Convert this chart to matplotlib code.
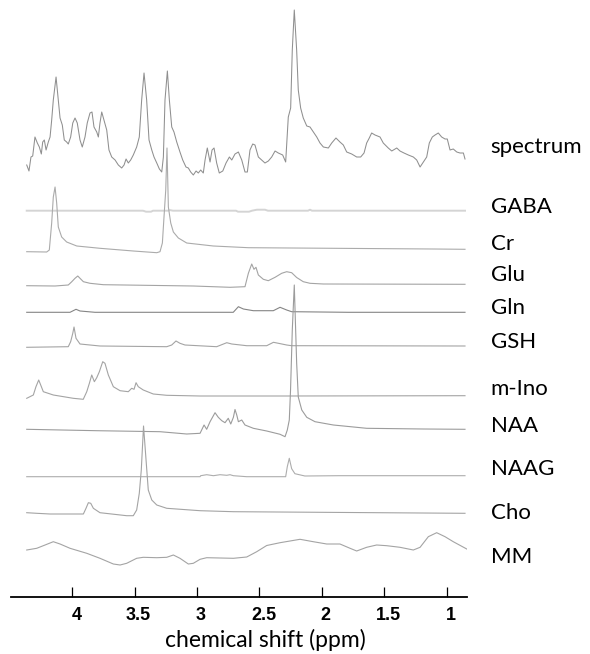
import matplotlib
matplotlib.use('Agg')
import matplotlib.pyplot as plt
import matplotlib.transforms as mtransforms

# trace names (top to bottom)
names = ['spectrum', 'GABA', 'Cr', 'Glu', 'Gln', 'GSH', 'm-Ino', 'NAA', 'NAAG', 'Cho', 'MM']

# values: chemical shift (ppm) and intensity (a.u.) above each trace baseline
spectrum_ppm = [4.365, 4.347, 4.331, 4.317, 4.299, 4.280, 4.264, 4.248, 4.237, 4.224, 4.210, 4.192, 4.178, 4.165,
                4.152, 4.130, 4.112, 4.098, 4.080, 4.064, 4.045, 4.032, 4.013, 3.996, 3.978, 3.960, 3.938, 3.920,
                3.898, 3.880, 3.858, 3.842, 3.826, 3.804, 3.791, 3.778, 3.764, 3.746, 3.724, 3.706, 3.684, 3.657,
                3.631, 3.604, 3.585, 3.569, 3.551, 3.532, 3.511, 3.484, 3.463, 3.444, 3.425, 3.404, 3.385, 3.363,
                3.345, 3.323, 3.302, 3.283, 3.270, 3.257, 3.238, 3.222, 3.203, 3.185, 3.163, 3.137, 3.115, 3.089,
                3.070, 3.051, 3.030, 3.008, 2.990, 2.971, 2.950, 2.936, 2.918, 2.896, 2.880, 2.864, 2.843, 2.822,
                2.794, 2.768, 2.741, 2.722, 2.696, 2.669, 2.642, 2.616, 2.597, 2.576, 2.554, 2.536, 2.509, 2.482,
                2.456, 2.429, 2.402, 2.375, 2.349, 2.314, 2.290, 2.269, 2.250, 2.237, 2.221, 2.202, 2.189, 2.170,
                2.149, 2.121, 2.095, 2.063, 2.041, 2.015, 1.988, 1.948, 1.921, 1.887, 1.855, 1.828, 1.801, 1.761,
                1.721, 1.689, 1.662, 1.641, 1.620, 1.601, 1.574, 1.534, 1.508, 1.468, 1.440, 1.400, 1.374, 1.342,
                1.307, 1.267, 1.240, 1.213, 1.187, 1.160, 1.139, 1.115, 1.093, 1.067, 1.040, 1.013, 0.995, 0.973,
                0.947, 0.919, 0.893, 0.866, 0.853]
spectrum_int = [15, 9, 23, 24, 43, 37, 33, 26, 38, 40, 30, 38, 43, 60,
                80, 103, 80, 62, 55, 40, 38, 36, 43, 57, 62, 57, 40, 33,
                43, 57, 67, 68, 53, 48, 43, 57, 68, 60, 50, 30, 23, 20,
                15, 12, 15, 21, 17, 20, 25, 33, 43, 80, 107, 80, 40, 30,
                23, 17, 11, 8, 23, 80, 109, 80, 53, 48, 38, 28, 20, 13,
                12, 8, 5, 9, 7, 10, 7, 20, 32, 18, 30, 32, 17, 7,
                9, 17, 23, 20, 26, 28, 20, 8, 8, 30, 36, 35, 23, 20,
                17, 19, 23, 29, 27, 25, 18, 63, 72, 130, 170, 130, 90, 72,
                62, 54, 53, 47, 43, 37, 33, 32, 37, 42, 38, 35, 28, 26,
                23, 23, 27, 37, 42, 47, 45, 43, 37, 32, 29, 32, 29, 27,
                25, 23, 20, 13, 18, 23, 37, 43, 45, 47, 43, 41, 41, 30,
                31, 28, 27, 27, 21]

gaba_ppm = [4.365, 3.433, 3.409, 3.369, 3.353, 3.233, 3.217, 3.193, 2.688, 2.672, 2.584, 2.560, 2.520, 2.456,
            2.432, 2.111, 2.095, 2.079, 0.853]
gaba_int = [0, 0, -1, -1, 0, 0, 0.6, 0, 0, -1, -1, 0, 1, 1, 0, 0, 1, 0, 0]

cr_ppm = [4.365, 4.205, 4.184, 4.165, 4.152, 4.138, 4.125, 4.112, 4.085, 4.045, 3.964, 3.778, 3.511, 3.323,
          3.297, 3.278, 3.265, 3.251, 3.241, 3.230, 3.211, 3.190, 3.150, 3.083, 2.870, 2.589, 1.107, 0.853]
cr_int = [0.3, 0, 2, 29, 55, 65, 49, 25, 15, 10, 6, 3.7, 1, -0.7,
          0.3, 9, 35, 62, 104, 45, 29, 20, 14, 9, 6, 4.3, 3, 2.7]

glu_ppm = [4.365, 4.138, 4.032, 4.004, 3.978, 3.956, 3.938, 3.911, 3.858, 3.751, 3.030, 2.736, 2.616, 2.589,
           2.562, 2.544, 2.528, 2.509, 2.469, 2.429, 2.375, 2.322, 2.282, 2.242, 2.202, 2.149, 2.095, 1.988, 0.853]
glu_int = [0.3, 0, 1, 4.3, 7.7, 10, 7.7, 4.3, 2.7, 1.3, 0, -1.3, -0.7, 12.7,
           22, 16.7, 18.7, 11, 6.7, 5.3, 8.7, 12.7, 14.3, 13.3, 8.5, 4.3, 2.7, 2, 1.7]

gln_ppm = [4.365, 4.018, 3.970, 3.938, 3.818, 2.710, 2.669, 2.629, 2.549, 2.389, 2.335, 2.282, 2.242, 1.788, 0.853]
gln_int = [0, 0, 3, 1.3, 0, 0, 5.6, 3.3, 1.6, 1.6, 5, 2.3, 0.6, 0, 0]

gsh_ppm = [4.365, 4.032, 4.013, 3.996, 3.986, 3.970, 3.938, 3.778, 3.243, 3.203, 3.169, 3.137, 3.097, 2.843,
           2.762, 2.722, 2.602, 2.442, 2.388, 2.348, 2.282, 2.242, 0.853]
gsh_int = [-0.6, 0, 5, 13.4, 19.7, 8.4, 2.7, 0.7, 0, 1.7, 5.7, 3.4, 1.7, 0,
           4, 2.7, 1, 1, 4.4, 3.4, 1.7, 1, 0.7]

mino_ppm = [4.365, 4.312, 4.291, 4.269, 4.253, 4.232, 4.152, 3.992, 3.912, 3.884, 3.863, 3.844, 3.823, 3.804,
            3.783, 3.756, 3.738, 3.711, 3.671, 3.617, 3.551, 3.524, 3.505, 3.489, 3.471, 3.431, 3.351, 3.243,
            2.976, 2.282, 0.853]
mino_int = [0, 3.3, 11.6, 18.3, 13.3, 6.6, 3.3, 0, -1, 6.6, 15, 23.3, 16.6, 20.6,
            26.6, 36.6, 35, 23.3, 11.6, 7.6, 6.6, 10, 9, 15.6, 11.6, 8.3, 4.3, 3,
            2.3, 2.3, 2.6]

naa_ppm = [4.365, 3.804, 3.297, 3.083, 2.976, 2.944, 2.923, 2.896, 2.856, 2.830, 2.802, 2.776, 2.750, 2.730,
           2.709, 2.696, 2.682, 2.669, 2.642, 2.616, 2.549, 2.442, 2.335, 2.295, 2.277, 2.261, 2.251, 2.237,
           2.221, 2.202, 2.189, 2.161, 2.121, 2.055, 1.908, 1.641, 1.187, 0.853]
naa_int = [0.7, -0.7, -1.7, -4, -3.3, 5, 0.7, 8.3, 17.3, 12.7, 9.3, 7.3, 11.7, 6,
           12.7, 20.5, 15, 8.3, 10, 5, 1.7, -1, -4.3, -6.7, 0, 10, 40, 100,
           145, 67, 33, 20, 12.7, 8.3, 5, 1.7, 1, 0.7]

naag_ppm = [4.365, 3.432, 2.976, 2.971, 2.923, 2.869, 2.816, 2.762, 2.736, 2.709, 2.602, 2.290, 2.277, 2.261,
            2.242, 2.216, 2.136, 1.868, 0.853]
naag_int = [0, 0, 0, 1, 2, 1, 2, 1.4, 2, 1, 0, 0, 10, 18.4, 8, 3, 0.7, 1, 1]

cho_ppm = [4.365, 4.285, 4.178, 3.911, 3.890, 3.871, 3.852, 3.831, 3.778, 3.564, 3.511, 3.484, 3.463, 3.447,
           3.429, 3.391, 3.363, 3.323, 3.243, 2.976, 2.709, 0.853]
cho_int = [0, -0.6, -1.3, -1.3, 4.4, 10, 9.4, 4.4, 0, -3, -3, 2.7, 19.4, 42.7,
           86.7, 22.7, 12.7, 7.7, 4.4, 2, 1, -0.6]

mm_ppm = [4.365, 4.285, 4.218, 4.152, 4.098, 4.018, 3.884, 3.778, 3.671, 3.617, 3.564, 3.484, 3.431, 3.323,
          3.243, 3.190, 3.137, 3.070, 3.030, 2.976, 2.923, 2.709, 2.602, 2.522, 2.442, 2.335, 2.175, 2.069,
          1.961, 1.855, 1.774, 1.721, 1.641, 1.561, 1.480, 1.374, 1.267, 1.213, 1.147, 1.080, 1.013, 0.947,
          0.839]
mm_int = [10, 11.7, 15, 18.3, 16, 11.7, 6.7, 1.7, -4, -5, -3.3, 1.7, 2.7, 2.3,
          2.7, 5, 1.7, -4, -3.3, 0.7, 2.3, 1.7, 3, 8.3, 14.5, 17.3, 20.7, 18.3,
          16, 16, 11.7, 9, 12.7, 15, 14.3, 12.7, 10, 12.7, 23.3, 27.3, 23.3, 18.3,
          11]

xticks = [4, 3.5, 3, 2.5, 2, 1.5, 1]
xtick_labels = ['4', '3.5', '3', '2.5', '2', '1.5', '1']

# layout: vertical offset of each trace baseline, and label height
offsets = [417, 386.3, 345, 311, 284.7, 250.3, 198.7, 167, 120.3, 84.3, 37]
label_y = [450, 390, 353, 322, 289, 255, 208, 171, 128, 84, 40]
colors = ['#8f8f8f', '#d4d4d4', '#ababab', '#a4a4a4', '#858585', '#a4a4a4',
          '#a4a4a4', '#9c9c9c', '#adadad', '#a4a4a4', '#a4a4a4']
widths = [0.75, 1.4, 0.8, 0.8, 0.8, 0.8, 0.8, 0.8, 0.8, 0.8, 0.8]

traces = [(spectrum_ppm, spectrum_int), (gaba_ppm, gaba_int), (cr_ppm, cr_int), (glu_ppm, glu_int),
          (gln_ppm, gln_int), (gsh_ppm, gsh_int), (mino_ppm, mino_int), (naa_ppm, naa_int),
          (naag_ppm, naag_int), (cho_ppm, cho_int), (mm_ppm, mm_int)]

fig = plt.figure(figsize=(5.9, 6.54), dpi=100)
ax = fig.add_axes([11 / 590, 1 - 597 / 654, 456 / 590, 597 / 654])

for i, (px, py) in enumerate(traces):
    ax.plot(px, [v + offsets[i] for v in py], color=colors[i], lw=widths[i])
    ax.text(1.052, label_y[i], names[i], transform=ax.get_yaxis_transform(),
            fontsize=16, family='Lato', va='center', ha='left', color='black')

ax.set_xlim(4.491, 0.837)
ax.set_ylim(0, 597)

for s in ['top', 'right', 'left']:
    ax.spines[s].set_visible(False)
ax.spines['bottom'].set_linewidth(1.3)
ax.set_yticks([])
ax.set_xticks(xticks)
ax.set_xticklabels(xtick_labels, fontsize=13, fontweight='bold', family='Liberation Sans')
ax.tick_params(axis='x', direction='in', length=7.2, width=0.9, pad=7)
shift = mtransforms.ScaledTranslation(4 / 100, 0, fig.dpi_scale_trans)
for lab in ax.get_xticklabels():
    lab.set_transform(lab.get_transform() + shift)

fig.text(265 / 590, 1 - 640 / 654, 'chemical shift (ppm)', fontsize=16.5, family='Lato',
         ha='center', va='center')

fig.savefig('out.png', dpi=100)
